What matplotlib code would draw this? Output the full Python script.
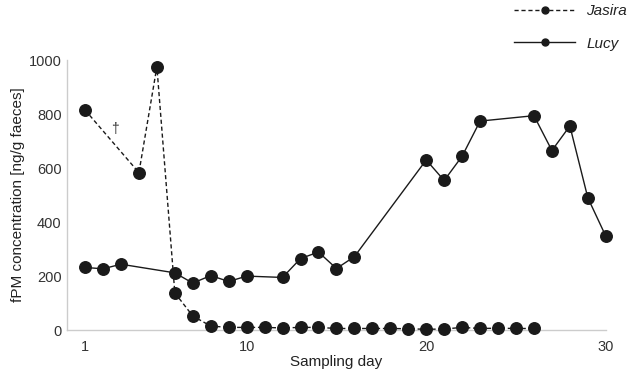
import matplotlib
matplotlib.use("Agg")
import matplotlib.pyplot as plt
from matplotlib.lines import Line2D

jasira_days = [1, 4, 5, 6, 7, 8, 9, 10, 11, 12, 13, 14, 15, 16, 17, 18, 19, 20, 21, 22, 23, 24, 25, 26]
jasira_vals = [815, 583, 975, 138, 52, 15, 10, 10, 10, 8, 10, 10, 6, 6, 6, 6, 5, 3, 4, 10, 6, 7, 6, 6]

lucy_days = [1, 2, 3, 6, 7, 8, 9, 10, 12, 13, 14, 15, 16, 20, 21, 22, 23, 26, 27, 28, 29, 30]
lucy_vals = [232, 227, 244, 212, 174, 202, 180, 200, 195, 265, 289, 228, 272, 630, 554, 644, 774, 794, 665, 756, 490, 348]

x_ticks = [1, 10, 20, 30]
y_ticks = [0, 200, 400, 600, 800, 1000]

plt.rcParams['font.family'] = ['Liberation Sans', 'DejaVu Sans']

fig = plt.figure(figsize=(6.33, 3.73), dpi=100)
ax = fig.add_axes([0.106, 0.115, 0.851, 0.724])

col = '#1a1a1a'
ax.plot(jasira_days, jasira_vals, linestyle=(0, (3, 2)), color=col, lw=1.0,
        marker='o', markersize=8.3, clip_on=False, zorder=3)
ax.plot(lucy_days, lucy_vals, linestyle='-', color=col, lw=1.0,
        marker='o', markersize=8.3, clip_on=False, zorder=3)

ax.text(2.65, 745, '†', fontsize=10, color='#333333', ha='center', va='center')

ax.set_xlim(0, 30)
ax.set_ylim(0, 1000)
ax.set_xticks(x_ticks)
ax.set_yticks(y_ticks)
ax.tick_params(axis='y', length=0, labelsize=10.5, colors='#333333', pad=4)
ax.tick_params(axis='x', length=0, labelsize=10.5, colors='#333333', pad=7)
for s in ['top', 'right']:
    ax.spines[s].set_visible(False)
for s in ['left', 'bottom']:
    ax.spines[s].set_color('#cccccc')
    ax.spines[s].set_linewidth(1.0)

ax.set_xlabel('Sampling day', fontsize=11, color='#222222', labelpad=1)
ax.set_ylabel('fPM concentration [ng/g faeces]', fontsize=11, color='#222222', labelpad=3)

handles = [
    Line2D([0], [0], linestyle=(0, (3, 2)), color=col, lw=1.0, marker='o', markersize=5),
    Line2D([0], [0], linestyle='-', color=col, lw=1.0, marker='o', markersize=5),
]
leg = fig.legend(handles, ['Jasira', 'Lucy'], loc='upper right', bbox_to_anchor=(1.012, 1.025),
                 frameon=False, handlelength=4.0, labelspacing=1.2, handletextpad=0.7,
                 prop={'style': 'italic', 'size': 11})
for t in leg.get_texts():
    t.set_color('#222222')

fig.savefig('out.png', dpi=100)
